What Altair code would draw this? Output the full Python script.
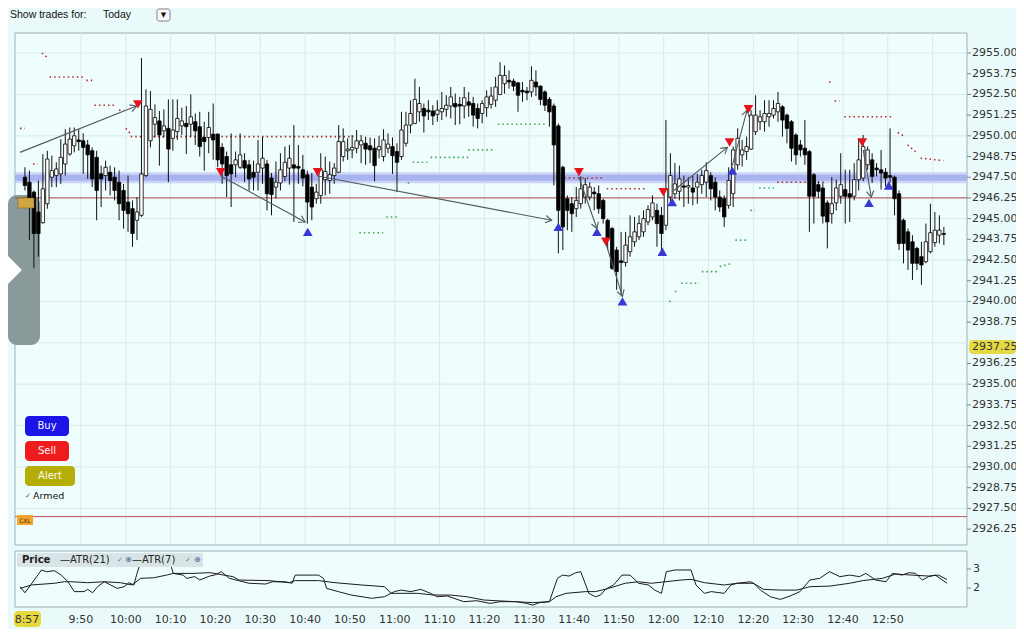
import math
import altair as alt
import pandas as pd

# ---------------- data ----------------
BAR0 = 37.5  # centre of first 1-minute bar (9:37), minutes after 9:00

opens = [2947.5, 2947.2, 2946.6, 2945.4, 2944.75, 2945.9, 2947.5, 2947.6, 2947.7, 2948.3,
         2948.9, 2949.4, 2949.75, 2949.7, 2949.45, 2949.1, 2948.7, 2947.7, 2947.6, 2947.8,
         2947.5, 2947.2, 2946.7, 2946.0, 2945.6, 2944.9, 2945.2, 2947.6, 2949.7, 2950.7,
         2950.9, 2950.3, 2950.45, 2949.85, 2950.25, 2950.6, 2950.75, 2950.7, 2950.85, 2950.55,
         2949.9, 2949.9, 2950.1, 2950.1, 2949.3, 2948.75, 2948.25, 2948.25, 2948.1, 2948.5,
         2948.25, 2947.8, 2947.8, 2948.05, 2948.3, 2947.45, 2946.9, 2947.15, 2947.55, 2948.05,
         2948.25, 2948.15, 2947.95, 2947.65, 2946.9, 2946.2, 2946.4, 2947.35, 2947.3, 2947.6,
         2947.8, 2948.75, 2949.1, 2949.15, 2949.25, 2949.45, 2949.55, 2949.4, 2949.25, 2949.15,
         2948.75, 2949.25, 2949.35, 2949.05, 2948.75, 2949.55, 2950.65, 2950.75, 2951.45, 2951.65,
         2951.55, 2951.5, 2951.3, 2951.45, 2951.6, 2951.8, 2951.95, 2951.9, 2951.8, 2952.05,
         2951.95, 2951.65, 2951.35, 2951.7, 2951.9, 2952.15, 2952.5, 2953.15, 2953.35, 2953.3,
         2953.2, 2952.75, 2952.7, 2952.65, 2953.25, 2953.0, 2952.65, 2952.2, 2951.8, 2950.6,
         2948.1, 2946.2, 2945.9, 2945.6, 2945.9, 2946.3, 2946.3, 2946.6, 2946.5, 2946.1,
         2944.9, 2944.4, 2943.1, 2942.45, 2942.35, 2943.0, 2943.6, 2943.9, 2944.2, 2944.8,
         2945.1, 2945.5, 2945.2, 2944.6, 2946.3, 2946.5, 2946.65, 2946.97, 2946.9, 2946.85,
         2946.9, 2947.05, 2947.2, 2947.6, 2947.2, 2946.3, 2946.2, 2945.8, 2946.5, 2948.25,
         2948.85, 2949.05, 2949.2, 2950.25, 2950.85, 2950.85, 2951.15, 2951.25, 2951.45, 2951.75,
         2951.25, 2950.85, 2950.05, 2949.45, 2949.25, 2949.05, 2947.65, 2947.05, 2946.85, 2945.95,
         2945.3, 2945.95, 2946.35, 2946.75, 2946.5, 2946.35, 2947.35, 2947.45, 2948.25, 2948.55,
         2948.05, 2947.95, 2947.8, 2947.6, 2947.5, 2946.5, 2944.9, 2944.2, 2943.6, 2943.2,
         2942.7, 2942.4, 2943.0, 2943.55, 2944.0, 2944.1]
highs = [2948.1, 2947.9, 2946.7, 2947.3, 2948.9, 2949.1, 2948.8, 2948.4, 2949.8, 2950.4,
         2950.5, 2950.5, 2950.4, 2950.15, 2949.75, 2949.3, 2949.1, 2948.2, 2948.5, 2948.2,
         2948.1, 2947.9, 2947.1, 2947.6, 2946.1, 2946.3, 2954.7, 2952.8, 2952.7, 2951.9,
         2951.5, 2951.6, 2952.2, 2952.2, 2952.2, 2951.7, 2951.8, 2952.5, 2951.35, 2951.45,
         2950.85, 2951.45, 2951.95, 2950.15, 2949.55, 2949.05, 2950.15, 2949.05, 2950.15, 2948.95,
         2948.55, 2948.5, 2949.75, 2949.95, 2948.55, 2947.75, 2948.45, 2948.95, 2949.35, 2949.45,
         2950.65, 2949.45, 2948.85, 2947.9, 2947.75, 2947.1, 2948.95, 2948.75, 2948.45, 2948.35,
         2950.65, 2950.45, 2949.85, 2950.05, 2950.35, 2950.05, 2949.95, 2949.9, 2949.85, 2950.0,
         2950.4, 2950.15, 2949.9, 2949.55, 2951.45, 2951.45, 2952.15, 2953.45, 2952.95, 2951.95,
         2952.15, 2951.85, 2952.15, 2952.65, 2952.45, 2952.95, 2952.55, 2952.35, 2952.95, 2952.65,
         2952.35, 2951.95, 2952.15, 2952.75, 2952.95, 2953.55, 2954.45, 2954.25, 2953.95, 2953.45,
         2953.25, 2953.25, 2952.95, 2954.2, 2953.95, 2953.05, 2952.75, 2952.35, 2951.95, 2950.75,
         2948.2, 2946.4, 2946.3, 2946.9, 2947.55, 2947.45, 2947.2, 2946.9, 2947.0, 2946.2,
         2945.0, 2944.5, 2943.3, 2944.2, 2944.2, 2945.2, 2945.1, 2945.2, 2945.5, 2945.8,
         2946.4, 2945.9, 2945.7, 2950.95, 2948.95, 2948.35, 2948.2, 2947.6, 2947.5, 2947.6,
         2947.7, 2947.95, 2948.4, 2947.8, 2947.5, 2946.7, 2946.4, 2948.1, 2949.35, 2950.45,
         2949.75, 2949.95, 2951.55, 2952.45, 2951.55, 2952.15, 2952.15, 2952.15, 2952.65, 2951.85,
         2951.35, 2950.95, 2950.15, 2949.75, 2950.95, 2949.15, 2947.75, 2947.25, 2947.15, 2946.1,
         2947.5, 2947.35, 2948.95, 2947.95, 2947.95, 2948.35, 2949.85, 2950.05, 2949.35, 2948.95,
         2948.35, 2949.15, 2948.05, 2950.45, 2947.6, 2946.7, 2945.0, 2944.4, 2944.0, 2943.3,
         2943.6, 2944.7, 2945.9, 2945.4, 2945.2, 2944.5]
lows = [2946.7, 2943.7, 2942.0, 2942.7, 2944.7, 2945.6, 2946.9, 2946.9, 2947.1, 2947.6,
        2948.8, 2949.0, 2949.1, 2947.7, 2947.4, 2946.9, 2944.9, 2945.7, 2946.7, 2946.4,
        2946.1, 2944.9, 2944.4, 2944.2, 2943.3, 2943.7, 2945.1, 2947.5, 2949.3, 2949.9,
        2948.2, 2949.9, 2947.2, 2949.1, 2949.75, 2950.05, 2948.9, 2949.95, 2949.45, 2948.75,
        2947.9, 2948.95, 2948.55, 2948.1, 2947.1, 2946.3, 2945.7, 2947.5, 2948.0, 2947.2,
        2946.7, 2946.7, 2946.7, 2947.1, 2945.5, 2945.2, 2946.2, 2946.7, 2947.25, 2947.05,
        2944.8, 2947.1, 2946.95, 2944.7, 2944.9, 2945.9, 2945.9, 2946.4, 2946.5, 2947.1,
        2947.75, 2948.45, 2948.55, 2948.65, 2948.95, 2948.35, 2948.25, 2948.35, 2947.25, 2948.65,
        2948.45, 2948.95, 2947.7, 2946.6, 2948.55, 2949.35, 2950.15, 2950.7, 2950.85, 2950.2,
        2950.95, 2950.65, 2950.85, 2950.95, 2951.15, 2951.05, 2950.65, 2950.7, 2951.05, 2951.15,
        2950.55, 2950.45, 2950.75, 2951.15, 2951.65, 2951.75, 2952.45, 2952.55, 2952.85, 2952.7,
        2951.45, 2952.05, 2952.15, 2952.35, 2952.4, 2951.85, 2951.5, 2950.55, 2947.0, 2942.9,
        2943.1, 2944.3, 2944.2, 2945.1, 2945.6, 2945.9, 2946.1, 2945.5, 2945.3, 2944.7,
        2943.1, 2941.9, 2940.7, 2940.4, 2942.1, 2942.7, 2943.3, 2943.7, 2943.9, 2944.6,
        2944.9, 2943.3, 2943.1, 2944.3, 2945.9, 2946.2, 2946.1, 2945.7, 2945.9, 2945.8,
        2945.9, 2946.5, 2946.3, 2946.1, 2945.5, 2945.4, 2944.5, 2945.6, 2945.7, 2947.95,
        2948.15, 2948.55, 2949.15, 2950.05, 2950.35, 2950.25, 2950.55, 2951.05, 2950.85, 2949.95,
        2949.55, 2948.45, 2948.25, 2948.75, 2948.25, 2944.2, 2944.7, 2946.25, 2944.7, 2943.2,
        2944.7, 2945.5, 2945.9, 2944.7, 2944.8, 2946.1, 2946.7, 2947.25, 2947.95, 2947.15,
        2947.55, 2946.75, 2946.95, 2947.15, 2945.2, 2943.1, 2942.3, 2941.9, 2941.3, 2941.9,
        2941.0, 2942.3, 2942.9, 2943.3, 2943.5, 2943.4]
closes = [2947.0, 2946.2, 2944.1, 2944.1, 2946.8, 2948.6, 2947.9, 2948.0, 2948.7, 2949.5,
          2949.8, 2950.0, 2949.65, 2949.3, 2948.85, 2947.4, 2946.7, 2947.4, 2948.1, 2947.3,
          2946.7, 2945.9, 2945.5, 2945.3, 2944.1, 2945.4, 2947.7, 2951.8, 2951.6, 2951.1,
          2950.05, 2950.6, 2949.2, 2950.35, 2951.05, 2950.9, 2950.55, 2951.15, 2950.3, 2949.35,
          2949.65, 2950.5, 2949.75, 2948.55, 2948.3, 2947.6, 2947.7, 2948.55, 2948.85, 2948.05,
          2947.4, 2947.5, 2948.3, 2948.65, 2946.5, 2946.45, 2947.2, 2947.95, 2948.4, 2948.65,
          2948.05, 2948.05, 2947.45, 2946.0, 2945.7, 2946.6, 2947.95, 2947.85, 2947.65, 2948.05,
          2949.65, 2949.65, 2949.2, 2949.3, 2949.7, 2949.7, 2949.2, 2949.15, 2948.2, 2949.35,
          2949.75, 2949.5, 2948.8, 2948.4, 2950.35, 2950.65, 2951.35, 2952.2, 2951.95, 2951.2,
          2951.45, 2951.2, 2951.55, 2951.65, 2951.85, 2952.35, 2951.75, 2951.8, 2952.3, 2951.85,
          2951.25, 2951.05, 2951.95, 2952.35, 2952.4, 2952.95, 2953.65, 2953.65, 2953.25, 2953.0,
          2952.45, 2952.65, 2952.6, 2953.35, 2952.95, 2952.2, 2951.85, 2951.45, 2949.45, 2945.5,
          2944.5, 2945.5, 2945.3, 2946.1, 2946.8, 2947.05, 2946.9, 2946.5, 2945.6, 2945.0,
          2943.8, 2942.0, 2941.8, 2942.35, 2943.4, 2943.9, 2944.2, 2944.7, 2945.0, 2945.55,
          2945.95, 2944.7, 2944.1, 2946.8, 2947.6, 2947.1, 2947.4, 2946.9, 2947.0, 2946.6,
          2947.2, 2947.6, 2947.9, 2946.8, 2946.3, 2945.7, 2945.1, 2947.3, 2949.15, 2949.85,
          2949.15, 2949.35, 2951.25, 2951.25, 2951.15, 2951.35, 2951.35, 2951.65, 2951.95, 2950.95,
          2950.45, 2949.25, 2948.85, 2949.15, 2948.85, 2946.35, 2946.35, 2946.65, 2945.15, 2944.8,
          2945.9, 2946.85, 2947.05, 2946.35, 2946.3, 2947.35, 2948.55, 2949.35, 2949.15, 2947.55,
          2947.95, 2947.75, 2947.45, 2947.5, 2946.2, 2943.5, 2943.5, 2943.1, 2942.3, 2942.3,
          2942.2, 2943.6, 2944.15, 2944.3, 2944.3, 2944.05]

atr21_t = [36.4, 39.0, 44.1, 46.3, 47.8, 51.5, 55.2, 58.8, 61.4, 63.3, 66.2, 69.1, 70.6, 75.0,
           78.7, 83.9, 85.3, 92.0, 96.4, 97.8, 103.0, 106.7, 112.6, 117.7, 119.2, 125.1, 128.7,
           132.4, 136.1, 139.8, 143.5, 147.1, 150.8, 154.5, 156.0, 158.2, 162.6, 164.8, 167.7,
           171.4, 174.4, 177.3, 180.3, 183.9, 186.1, 189.1, 193.5, 196.4, 199.4, 202.3, 206.0,
           209.7, 212.6, 217.0, 221.5, 224.4, 228.8, 231.8, 235.4, 239.1, 241.3, 243.2]
atr21_v = [1.98, 2.16, 2.25, 2.33, 2.33, 2.28, 2.33, 2.28, 2.16, 2.51, 2.54, 2.68, 2.77, 2.77,
           2.81, 2.60, 2.42, 2.39, 2.28, 2.39, 2.39, 2.28, 2.16, 2.07, 1.72, 1.72, 1.63,
           1.63, 1.54, 1.37, 1.32, 1.28, 1.23, 1.28, 1.54, 1.72, 1.81, 1.81, 1.98,
           2.25, 2.33, 2.25, 2.33, 2.42, 2.46, 2.28, 2.16, 2.25, 2.33, 1.93, 1.89,
           1.89, 2.07, 2.10, 2.25, 2.39, 2.51, 2.74, 2.68, 2.63, 2.68, 2.45]
atr7_t = [36.4, 37.5, 41.2, 42.3, 44.1, 45.6, 47.1, 48.5, 50.7, 51.5, 52.6, 53.7, 55.2, 56.6,
          58.1, 59.6, 60.7, 61.8, 62.5, 64.0, 66.2, 68.4, 69.9, 70.6, 72.8, 73.6, 75.4, 76.5,
          78.7, 79.8, 81.3, 83.1, 84.6, 87.5, 91.2, 92.7, 95.6, 97.1, 97.8, 103.0, 104.1, 104.8,
          107.4, 110.3, 114.8, 117.7, 119.9, 121.4, 123.6, 125.8, 128.0, 129.5, 131.7, 133.2,
          135.4, 138.3, 141.3, 143.5, 147.1, 149.4, 150.8, 152.3, 154.5, 156.3, 157.4, 158.9,
          160.4, 161.5, 163.3, 164.8, 165.9, 167.0, 168.8, 170.7, 172.5, 174.4, 176.6, 178.0,
          179.5, 180.6, 182.5, 186.1, 187.2, 189.1, 190.6, 193.5, 195.0, 196.4, 200.1, 201.6,
          203.8, 206.0, 208.2, 210.4, 212.6, 214.8, 217.0, 219.3, 221.5, 223.7, 225.1, 227.3,
          229.6, 231.0, 233.2, 234.7, 236.2, 237.7, 239.1, 240.6, 243.2]
atr7_v = [2.07, 1.75, 2.95, 2.86, 2.91, 2.68, 2.33, 1.81, 1.81, 1.93, 1.75, 2.07, 2.33, 2.16,
          1.98, 2.07, 2.28, 2.16, 2.77, 3.82, 3.82, 3.74, 3.30, 2.77, 2.68, 2.51, 2.60, 2.42,
          2.63, 2.68, 2.86, 2.51, 2.42, 2.25, 2.21, 2.33, 2.33, 2.25, 2.68, 2.68, 2.51, 1.98,
          1.81, 1.63, 1.46, 1.54, 1.81, 1.89, 1.81, 1.93, 1.72, 1.54, 1.58, 1.46,
          1.28, 1.33, 1.19, 1.28, 1.28, 1.19, 1.10, 1.23, 1.28, 2.51, 2.68, 2.63,
          2.81, 2.86, 1.72, 1.54, 1.63, 1.93, 2.16, 2.68, 2.68, 2.25, 2.16, 1.89,
          1.72, 2.86, 2.95, 2.95, 2.16, 1.72, 1.81, 1.72, 2.16, 2.25, 2.25, 1.89,
          1.54, 1.40, 1.58, 1.81, 2.42, 2.51, 2.86, 2.60, 2.68, 2.60, 2.77, 2.42,
          2.33, 2.77, 2.68, 2.81, 2.77, 2.42, 2.60, 2.68, 2.25]

sell_t = [62.7, 81.2, 102.8, 161.1, 167.1, 179.9, 194.7, 198.9, 224.3]
sell_p = [2951.9, 2947.8, 2947.8, 2947.8, 2943.6, 2946.6, 2949.6, 2951.6, 2949.6]
buy_t = [100.6, 156.5, 165.1, 170.8, 179.7, 181.9, 195.3, 225.8, 230.2]
buy_p = [2944.2, 2944.5, 2944.2, 2940.0, 2943.0, 2946.0, 2947.9, 2945.95, 2947.0]

trade_t1 = [36.4, 81.2, 102.8, 161.1, 167.1, 182.3, 195.3, 224.5]
trade_p1 = [2949.0, 2947.57, 2947.57, 2947.5, 2943.5, 2946.7, 2948.2, 2949.15]
trade_t2 = [62.4, 100.0, 155.0, 165.1, 170.8, 194.2, 198.6, 226.3]
trade_p2 = [2951.8, 2944.8, 2944.9, 2944.4, 2940.3, 2949.3, 2951.55, 2946.3]

stop_t1 = [41.3, 43.0, 51.2, 53.0, 58.5, 36.4, 39.3, 60.0, 61.1, 157.8, 167.3, 205.3, 216.9, 218.1, 220.3, 232.2, 234.4, 237.3]
stop_t2 = [42.4, 50.7, 52.5, 58.0, 59.6, 37.5, 40.4, 61.0, 110.8, 166.6, 175.9, 216.3, 217.5, 219.2, 231.3, 233.5, 236.6, 242.4]
stop_p1 = [2955.0, 2953.55, 2953.35, 2951.85, 2951.55, 2950.45, 2948.3, 2950.45, 2949.95, 2947.45, 2946.8, 2947.2, 2953.25, 2952.1, 2951.15, 2950.2, 2949.45, 2948.65]
stop_p2 = [2954.75, 2953.55, 2953.35, 2951.85, 2951.55, 2950.45, 2948.3, 2950.15, 2949.95, 2947.45, 2946.8, 2947.2, 2953.25, 2952.1, 2951.15, 2950.0, 2948.95, 2948.5]
trail_t1 = [112.1, 118.1, 122.9, 124.0, 128.0, 136.4, 143.0, 181.2, 182.5, 183.9, 188.5, 192.5, 196.0, 199.3, 201.3]
trail_t2 = [117.4, 120.7, 123.3, 127.3, 136.4, 142.4, 153.8, 181.6, 183.2, 188.0, 192.0, 195.3, 198.6, 200.4, 204.6]
trail_p1 = [2944.15, 2945.1, 2947.15, 2948.4, 2948.7, 2949.15, 2950.7, 2940.0, 2940.6, 2941.1, 2941.8, 2942.1, 2943.7, 2945.5, 2946.85]
trail_p2 = [2944.15, 2945.1, 2947.15, 2948.4, 2948.7, 2949.15, 2950.7, 2940.0, 2940.6, 2941.1, 2941.8, 2942.3, 2943.7, 2945.5, 2946.85]

price_ticks = [2926.25 + 1.25 * i for i in range(24) if i != 9]  # 2937.50 hidden by last-price flag
grid_levels = [2927.5 + 2.5 * i for i in range(12)]
time_ticks = list(range(50, 231, 10))
grid_times = list(range(50, 241, 10))
atr_ticks = [2, 3]
band_level = 2947.47
entry_level = 2946.25
cxl_level = 2927.0
last_price = 2937.25

# ---------------- layout ----------------
W, H = 952, 574
PRICE_H = 507
MAIN_BOX = 512
ATR_TOP = 518
FONT = "DejaVu Sans"
X_DOM = [36.4, 246.55]
PY_DOM = [2925.59, 2956.21]
AY_DOM = [1.0, 3.95]

xs = alt.Scale(domain=X_DOM, nice=False, zero=False)
ys = alt.Scale(domain=PY_DOM, range=[PRICE_H, 0], nice=False, zero=False)
ya = alt.Scale(domain=AY_DOM, range=[H, ATR_TOP], nice=False, zero=False)

px_per_min = W / (X_DOM[1] - X_DOM[0])
px_per_pt = PRICE_H / (PY_DOM[1] - PY_DOM[0])

candles = pd.DataFrame({"t": [BAR0 + i for i in range(len(opens))],
                        "open": opens, "high": highs, "low": lows, "close": closes})
candles["dir"] = ["up" if c >= o else "down" for o, c in zip(opens, closes)]

atr = pd.DataFrame(
    [{"t": t, "v": v, "s": "ATR(21)"} for t, v in zip(atr21_t, atr21_v)]
    + [{"t": t, "v": v, "s": "ATR(7)"} for t, v in zip(atr7_t, atr7_v)])

segs = pd.DataFrame(
    [{"t1": a, "t2": b, "p1": c, "p2": d, "k": "stop"} for a, b, c, d in zip(stop_t1, stop_t2, stop_p1, stop_p2)]
    + [{"t1": a, "t2": b, "p1": c, "p2": d, "k": "trail"} for a, b, c, d in zip(trail_t1, trail_t2, trail_p1, trail_p2)])

trades = pd.DataFrame({"t1": trade_t1, "p1": trade_p1, "t2": trade_t2, "p2": trade_p2})
trades["ang"] = [math.degrees(math.atan2(-(b2 - b1) * px_per_pt, (a2 - a1) * px_per_min)) % 360
                 for a1, b1, a2, b2 in zip(trade_t1, trade_p1, trade_t2, trade_p2)]

price_lab = pd.DataFrame({"p": price_ticks, "lab": [f"{p:.2f}" for p in price_ticks]})
time_lab = pd.DataFrame({"t": time_ticks,
                         "lab": [f"{9 + t // 60}:{t % 60:02d}" for t in time_ticks]})

dummy = pd.DataFrame({"k": [0]})


def prect(x1, x2, y1, y2, **kw):
    return alt.Chart(dummy).mark_rect(**kw).encode(
        x=alt.value(x1), x2=alt.value(x2), y=alt.value(y1), y2=alt.value(y2))


def ptext(x, y, s, **kw):
    return alt.Chart(dummy).mark_text(text=s, **kw).encode(x=alt.value(x), y=alt.value(y))


def PX(f):
    return alt.X(f"{f}:Q", scale=xs, axis=None)


def PY(f):
    return alt.Y(f"{f}:Q", scale=ys, axis=None)


# ---------------- price panel ----------------
bg_main = prect(0, W, 0, MAIN_BOX, fill="#f0fdfd", stroke="#9fb0b4", strokeWidth=1)

grid_p = alt.Chart(pd.DataFrame({"p": grid_levels})).mark_rule(color="#d8e9ec", strokeWidth=1).encode(
    y=PY("p"), x=alt.value(0), x2=alt.value(W))
grid_t = alt.Chart(pd.DataFrame({"t": grid_times})).mark_rule(color="#d8e9ec", strokeWidth=1).encode(
    x=PX("t"), y=alt.value(0), y2=alt.value(MAIN_BOX))

side_panel = prect(-7, 25, 162, 312, fill="#8a9a9a", cornerRadius=9)
chevron = alt.Chart(dummy).mark_point(
    shape="M-0.5,-1L0.5,0L-0.5,1L-0.9,0.62L-0.12,0L-0.9,-0.62Z", size=1900, filled=True,
    color="#ffffff", opacity=1).encode(x=alt.value(-4), y=alt.value(237))

band_glow = alt.Chart(pd.DataFrame({"p": [band_level]})).mark_rule(color="#c3cbf5", strokeWidth=11, opacity=0.8).encode(
    y=PY("p"), x=alt.value(0), x2=alt.value(W))
band = alt.Chart(pd.DataFrame({"p": [band_level]})).mark_rule(color="#a6b1ef", strokeWidth=6, opacity=0.95).encode(
    y=PY("p"), x=alt.value(0), x2=alt.value(W))
entry = alt.Chart(pd.DataFrame({"p": [entry_level]})).mark_rule(color="#a84444", strokeWidth=1).encode(
    y=PY("p"), x=alt.value(0), x2=alt.value(W))
cxl = alt.Chart(pd.DataFrame({"p": [cxl_level]})).mark_rule(color="#c05454", strokeWidth=1).encode(
    y=PY("p"), x=alt.value(0), x2=alt.value(W))

dots = alt.Chart(segs).mark_rule(strokeDash=[1.5, 3.03], strokeWidth=1.6).encode(
    x=PX("t1"), x2="t2:Q", y=PY("p1"), y2="p2:Q",
    color=alt.Color("k:N", scale=alt.Scale(domain=["stop", "trail"], range=["#b02c2c", "#3da552"]), legend=None))

wicks = alt.Chart(candles).mark_rule(color="#111111", strokeWidth=1).encode(
    x=PX("t"), y=PY("high"), y2="low:Q")
bodies = alt.Chart(candles).mark_bar(size=3.4, stroke="#000000", strokeWidth=0.8).encode(
    x=PX("t"), y=PY("open"), y2="close:Q",
    fill=alt.Fill("dir:N", scale=alt.Scale(domain=["up", "down"], range=["#ffffff", "#000000"]), legend=None))

trade_lines = alt.Chart(trades).mark_rule(color="#4f5a5e", strokeWidth=1.1).encode(
    x=PX("t1"), x2="t2:Q", y=PY("p1"), y2="p2:Q")
trade_heads = alt.Chart(trades).mark_point(shape="M-1,-0.6L0,0L-1,0.6", filled=False, size=150,
                                           strokeWidth=1.1, color="#4f5a5e", opacity=1).encode(
    x=PX("t2"), y=PY("p2"), angle=alt.Angle("ang:Q", scale=None))

sells = alt.Chart(pd.DataFrame({"t": sell_t, "p": sell_p})).mark_point(
    shape="triangle-down", filled=True, size=95, color="#e5141c", opacity=1).encode(x=PX("t"), y=PY("p"))
buys = alt.Chart(pd.DataFrame({"t": buy_t, "p": buy_p})).mark_point(
    shape="triangle-up", filled=True, size=95, color="#3838d6", opacity=1).encode(x=PX("t"), y=PY("p"))

# right price scale (ticks + labels drawn through the price scale)
p_ticks = alt.Chart(price_lab).mark_rule(color="#7a8a8e", strokeWidth=1).encode(
    y=PY("p"), x=alt.value(W), x2=alt.value(W + 4))
p_labels = alt.Chart(price_lab).mark_text(align="left", baseline="middle", font=FONT, fontSize=11,
                                          color="#333333").encode(
    y=PY("p"), x=alt.value(W + 5), text="lab:N")

flag_df = pd.DataFrame({"p": [last_price], "lab": [f"{last_price:.2f}"]})
flag_rect = prect(954, 1001, 307, 321, fill="#e6da44", cornerRadius=4)
flag_text = alt.Chart(flag_df).mark_text(align="left", baseline="middle", font=FONT, fontSize=11,
                                         color="#333333").encode(
    x=alt.value(957), y=PY("p"), text="lab:N")

gold_box = prect(3, 19, 165, 175, fill="#cfa640", stroke="#8a6a20", strokeWidth=0.6)
cxl_box = prect(2, 18, 482, 492, fill="#f2a530")
cxl_text = ptext(10, 487.5, "CXL", font=FONT, fontSize=6, color="#5a2a00", align="center", baseline="middle")

price_group = alt.layer(bg_main, grid_p, grid_t, side_panel, chevron, band_glow, band, entry, cxl,
                        dots, wicks, bodies, trade_lines, trade_heads, sells, buys, p_ticks, p_labels,
                        flag_rect, flag_text, gold_box, cxl_box, cxl_text)

# ---------------- ATR panel ----------------
bg_atr = prect(0, W, ATR_TOP, H, fill="#f0fdfd", stroke="#9fb0b4", strokeWidth=1)
atr_lines = alt.Chart(atr).mark_line(color="#1c1c1c", strokeWidth=1).encode(
    x=PX("t"), y=alt.Y("v:Q", scale=ya, axis=None), detail="s:N")
atr_tick_df = pd.DataFrame({"v": atr_ticks})
atr_ticks_r = alt.Chart(atr_tick_df).mark_rule(color="#7a8a8e", strokeWidth=1).encode(
    y=alt.Y("v:Q", scale=ya, axis=None), x=alt.value(W), x2=alt.value(W + 4))
atr_labels = alt.Chart(atr_tick_df).mark_text(align="left", baseline="middle", font=FONT, fontSize=11,
                                              color="#333333").encode(
    y=alt.Y("v:Q", scale=ya, axis=None), x=alt.value(W + 6), text=alt.Text("v:Q", format="d"))
t_labels = alt.Chart(time_lab).mark_text(align="center", baseline="middle", font=FONT, fontSize=11,
                                         color="#333333").encode(
    x=PX("t"), y=alt.value(587), text="lab:N")
atr_group = alt.layer(bg_atr, atr_lines, atr_ticks_r, atr_labels, t_labels)

# ---------------- decorations ----------------
deco = alt.layer(
    prect(2, 188, 520, 534, fill="#d8e4e6"),
    ptext(7, 527, "Price", font=FONT, fontSize=10, fontWeight="bold", color="#222222", align="left", baseline="middle"),
    ptext(45, 527, "\u2014ATR(21)", font=FONT, fontSize=10, color="#222222", align="left", baseline="middle"),
    ptext(102, 527, "\u2713", font=FONT, fontSize=7, color="#5a7aa0", align="left", baseline="middle"),
    ptext(110, 527, "\u2295", font=FONT, fontSize=8, color="#3a60a0", align="left", baseline="middle"),
    ptext(117, 527, "\u2014ATR(7)", font=FONT, fontSize=10, color="#222222", align="left", baseline="middle"),
    ptext(170, 527, "\u2713", font=FONT, fontSize=7, color="#5a7aa0", align="left", baseline="middle"),
    ptext(179, 527, "\u2295", font=FONT, fontSize=8, color="#3a60a0", align="left", baseline="middle"),
    prect(-1, 26, 578, 594, fill="#e6d840", cornerRadius=4),
    ptext(12, 586.5, "8:57", font=FONT, fontSize=11, color="#333333", align="center", baseline="middle"),
    prect(10, 54, 383, 403, fill="#1a14e6", cornerRadius=4),
    ptext(32, 393, "Buy", font=FONT, fontSize=10, color="#f4f4ff", align="center", baseline="middle"),
    prect(10, 54, 408, 428, fill="#ee1c1c", cornerRadius=4),
    ptext(32, 418, "Sell", font=FONT, fontSize=10, color="#fff4f4", align="center", baseline="middle"),
    prect(10, 60, 433, 453, fill="#b6ae08", cornerRadius=4),
    ptext(35, 443, "Alert", font=FONT, fontSize=10, color="#f8f8e8", align="center", baseline="middle"),
    ptext(10, 463, "\u2713", font=FONT, fontSize=7, color="#3a5aa0", align="left", baseline="middle"),
    ptext(18, 463, "Armed", font=FONT, fontSize=9.5, color="#111111", align="left", baseline="middle"),
    ptext(-5, -18, "Show trades for:", font="Liberation Sans", fontSize=10.5, color="#111111", align="left", baseline="middle"),
    ptext(88, -18, "Today", font="Liberation Sans", fontSize=10.5, color="#111111", align="left", baseline="middle"),
    prect(142, 155, -24, -12, fill="#f8f8f8", stroke="#666666", strokeWidth=0.8, cornerRadius=2),
    ptext(148.5, -18, "\u25bc", font=FONT, fontSize=7, color="#111111", align="center", baseline="middle"),
)

chart = alt.layer(price_group, atr_group, deco).resolve_scale(y="independent").properties(
    width=W, height=H,
    padding={"left": 7, "top": 25, "right": 49, "bottom": 22},
    autosize=alt.AutoSizeParams(type="none"),
    background="#eafafa",
).configure_view(strokeWidth=0)

chart.save("out.html", embed_options={"renderer": "svg", "actions": False})
